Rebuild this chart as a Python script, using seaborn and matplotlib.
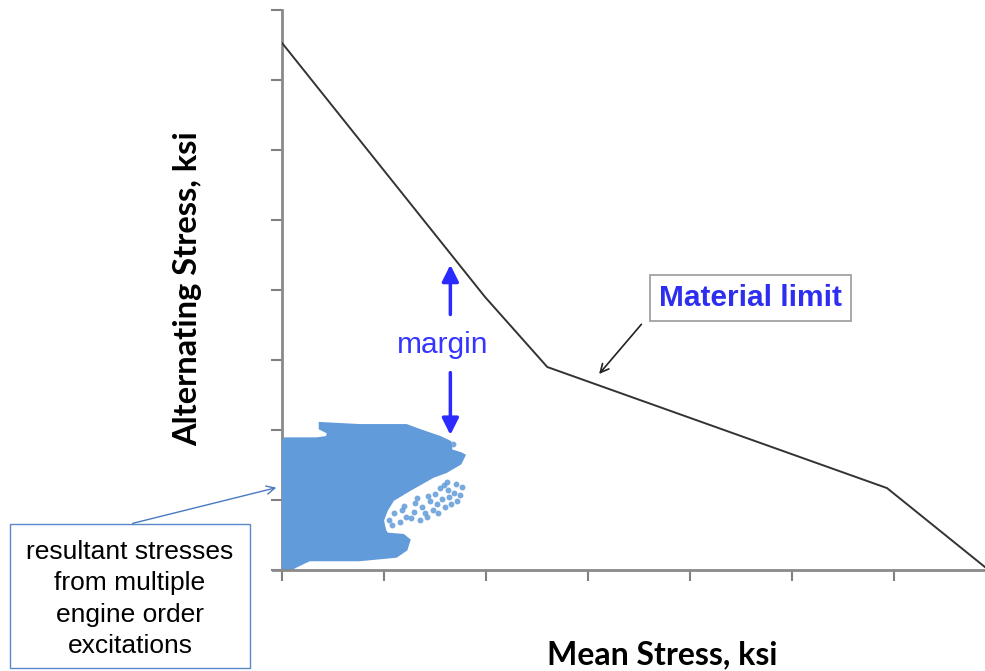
import matplotlib
matplotlib.use("Agg")
import matplotlib.pyplot as plt
from matplotlib.patches import Rectangle
import seaborn as sns
import pandas as pd

# Material limit curve (mean stress, alternating stress), ksi
limit_mean = [0.0, 19.9, 26.0, 59.3, 69.0]
limit_alt = [75.3, 39.0, 29.0, 11.7, 0.3]

# Outline of the dense cloud of resultant stresses
cloud_mean = [0.0, 0.0, 0.13, 0.29, 3.4, 4.4, 4.5, 3.7, 3.7, 7.6, 12.2, 13.5, 15.5,
              16.5, 16.6, 17.5, 17.9, 17.5, 16.1, 14.8, 12.5, 10.9, 10.3, 9.9,
              10.1, 10.3, 11.9, 12.5, 12.2, 11.2, 7.6, 2.7, 1.4, 0.8]
cloud_alt = [0.0, 15.7, 18.6, 18.8, 18.8, 19.0, 19.6, 20.2, 21.0, 20.7, 20.7, 20.0, 19.0,
             18.3, 17.1, 16.7, 16.4, 15.2, 14.0, 13.3, 11.4, 10.0, 8.6, 7.1,
             5.7, 5.2, 5.0, 4.3, 2.9, 1.9, 1.4, 1.4, 0.5, 0.0]

# Sparse stress points at the cloud's lower-right fringe
sparse_mean = [17.1, 17.4, 16.3, 15.5, 16.6, 15.7, 14.5, 13.7, 14.8, 12.9, 12.2, 13.5,
               11.6, 10.8, 14.2, 16.0, 16.8, 16.0,
               15.0, 13.2, 12.0, 11.0, 10.5, 14.0, 15.2, 16.9, 17.6, 13.0, 11.8, 15.9,
               16.4, 15.3, 14.3, 12.6, 17.2, 16.2]
sparse_alt = [12.3, 10.7, 11.4, 11.7, 9.5, 10.2, 9.8, 9.0, 8.6, 8.3, 7.6, 7.1,
              6.9, 6.4, 7.6, 9.0, 18.0, 17.5,
              10.9, 10.3, 9.2, 8.2, 7.2, 8.1, 9.4, 11.0, 11.9, 9.6, 8.6, 12.1,
              10.5, 8.1, 10.6, 7.4, 9.9, 12.6]

x_ticks = [0, 10, 20, 30, 40, 50, 60]
y_ticks = [0, 10, 20, 30, 40, 50, 60, 70, 80]

sns.set_style("white")
plt.rcParams['font.family'] = ['Liberation Sans', 'DejaVu Sans']

fig = plt.figure(figsize=(9.85, 6.71), dpi=100)
ax = fig.add_axes([282/985, 1 - 570/671, 1 - 282/985, (570 - 10)/671])

blue = '#629BDA'
ax.fill(cloud_mean, cloud_alt, color=blue, lw=1.5, ec=blue, zorder=2)
sns.scatterplot(x=sparse_mean, y=sparse_alt, color=blue, s=18, linewidth=0, alpha=0.85,
                ax=ax, zorder=2)

df = pd.DataFrame({'mean': limit_mean, 'alt': limit_alt})
sns.lineplot(data=df, x='mean', y='alt', color='#333333', lw=1.4, ax=ax, sort=False, zorder=3)

ax.set_xlim(0, 68.9)
ax.set_ylim(0, 80)
ax.set_xticks(x_ticks)
ax.set_yticks(y_ticks)
ax.set_xticklabels([])
ax.set_yticklabels([])
ax.tick_params(axis='both', direction='out', length=8, width=1.5, color='#808080')
ax.tick_params(axis='x', bottom=True)
ax.tick_params(axis='y', left=True)
for s in ['top', 'right']:
    ax.spines[s].set_visible(False)
for s in ['left', 'bottom']:
    ax.spines[s].set_color('#8a8a8a')
    ax.spines[s].set_linewidth(2)
ax.spines['bottom'].set_bounds(-0.85, 68.9)
ax.spines['left'].set_zorder(1)
ax.set_xlabel('')
ax.set_ylabel('')

# Axis titles
fig.text(662/985, 1 - 655/671, 'Mean Stress, ksi', ha='center', va='center', color='black',
         fontsize=23, fontweight='bold', family=['Lato', 'DejaVu Sans'])
fig.text(188/985, 1 - 289/671, 'Alternating Stress, ksi', ha='center', va='center',
         color='black', rotation=90, fontsize=23.5, fontweight='bold',
         family=['Lato', 'DejaVu Sans'])

# Margin arrows
mblue = '#2B2BFF'
ax.annotate('', xy=(16.5, 44.0), xytext=(16.5, 36.1),
            arrowprops=dict(arrowstyle='-|>,head_length=1.0,head_width=0.5', color=mblue, lw=2.5))
ax.annotate('', xy=(16.5, 18.9), xytext=(16.5, 28.6),
            arrowprops=dict(arrowstyle='-|>,head_length=1.0,head_width=0.5', color=mblue, lw=2.5))
ax.text(15.8, 32.1, 'margin', color='#3535FF', fontsize=21.5, ha='center', va='center')

# Material limit callout
ax.text(45.9, 38.9, 'Material limit', color='#2E2EF0', fontsize=21.5, fontweight='bold',
        ha='center', va='center',
        bbox=dict(boxstyle='square,pad=0.3', fc='white', ec='#999999', lw=1.2))
ax.annotate('', xy=(30.9, 27.7), xytext=(35.4, 35.4),
            arrowprops=dict(arrowstyle='->,head_length=0.6,head_width=0.3', color='#222222', lw=1.2))

# Resultant stresses callout
fig.add_artist(Rectangle((10/985, 1 - 668/671), 240/985, 144/671, transform=fig.transFigure,
                         fill=False, ec='#5B87C8', lw=1.0))
fig.text(130/985, 1 - 599/671, 'resultant stresses\nfrom multiple\nengine order\nexcitations',
         ha='center', va='center', fontsize=19, linespacing=1.38, color='black')
ax.annotate('', xy=(279, 671 - 487), xycoords='figure pixels',
            xytext=(130, 671 - 524), textcoords='figure pixels',
            arrowprops=dict(arrowstyle='->,head_length=0.6,head_width=0.3', color='#4A78C0', lw=1.0),
            annotation_clip=False)

fig.savefig('out.png', dpi=100)
